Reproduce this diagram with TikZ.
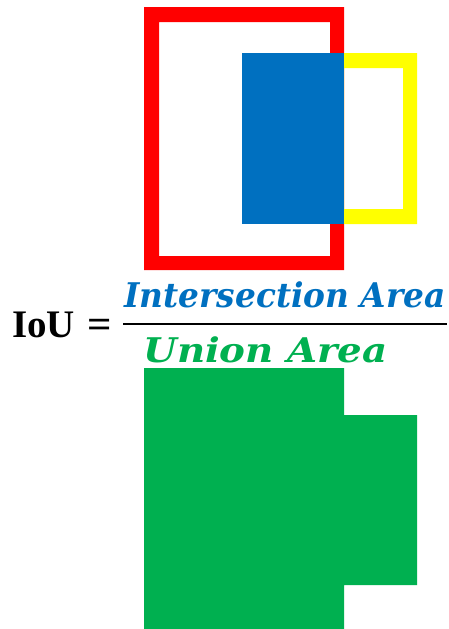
\documentclass[tikz,border=0pt]{standalone}
\usepackage{fontspec}
\setmainfont{Liberation Serif}
\newfontfamily\dvs{DejaVu Serif}
\definecolor{rd}{HTML}{FF0000}
\definecolor{yl}{HTML}{FFFF00}
\definecolor{bl}{HTML}{0070C0}
\definecolor{gr}{HTML}{00B050}
\begin{document}
\begin{tikzpicture}[x=1pt,y=-1pt,
  frame/.style={even odd rule},
  lbl/.style={inner sep=0pt,anchor=base},
  frac/.style={lbl,font=\dvs\bfseries\itshape\fontsize{34}{34}\selectfont}]
\useasboundingbox[fill=white] (0,0) rectangle (449,629);
% red ground truth box
\fill[rd,frame] (144,7) rectangle (344,270) (159,22) rectangle (330,256);
% yellow prediction box
\fill[yl,frame] (344,53) rectangle (417,224) (330,68) rectangle (403,209);
% blue intersection
\fill[bl] (242,53) rectangle (344,224);
% formula
\node[lbl,font=\bfseries\fontsize{39}{39}\selectfont] (iou) at (43.5,337) {IoU};
\node[lbl,font=\bfseries\fontsize{39}{39}\selectfont,xscale=1.1] (eq) at (99.5,337) {=};
\node[frac,text=bl,xscale=0.965] (num) at (285,307) {Intersection Area};
\node[frac,text=gr,xscale=1.14] (den) at (265.5,362) {Union Area};
\coordinate (la) at (123,324);
\coordinate (lb) at (447,324);
\draw[line width=2.2pt,black] (la) -- (lb);
% green union
\fill[gr] (144,368) -- (344,368) -- (344,415) -- (417,415) -- (417,585) -- (344,585) -- (344,629) -- (144,629) -- cycle;
\end{tikzpicture}
\end{document}
